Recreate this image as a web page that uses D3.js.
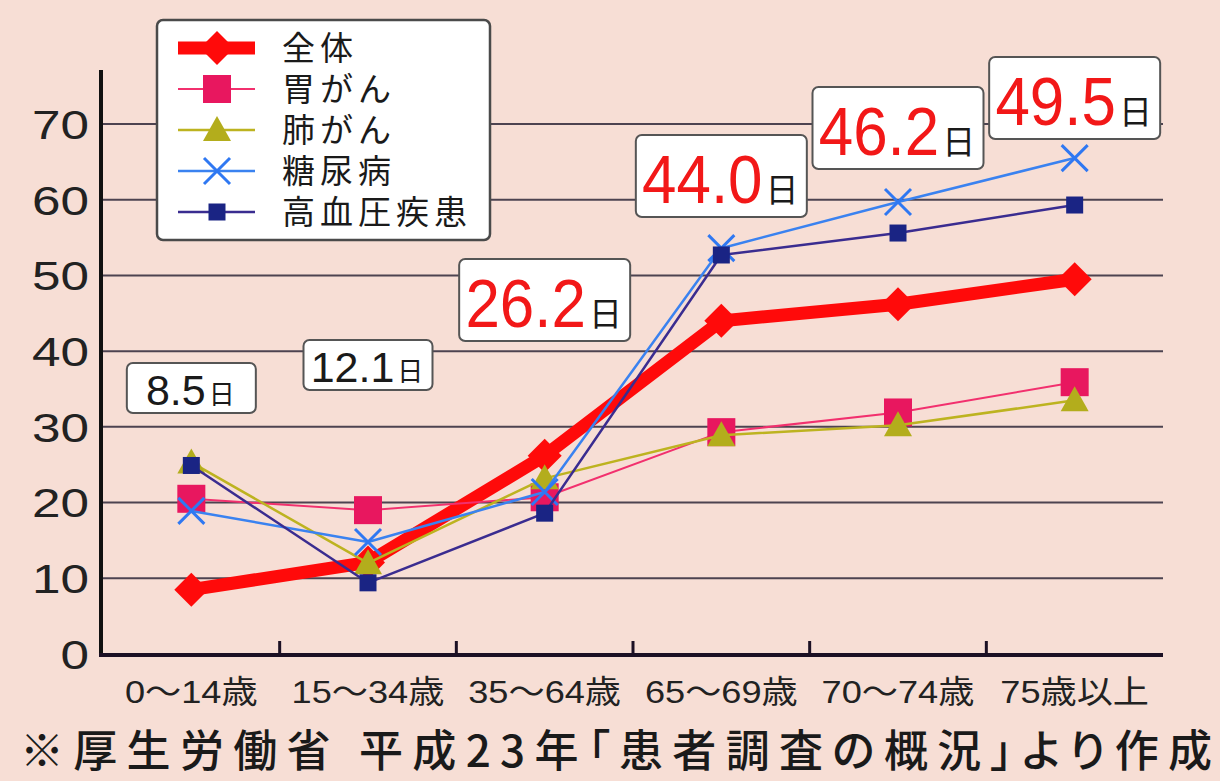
<!DOCTYPE html>
<html>
<head>
<meta charset="utf-8">
<script src="https://d3js.org/d3.v7.min.js"></script>
<style>
 body{margin:0;background:#f7ded5;}
 svg{display:block;font-family:"Liberation Sans","Noto Sans CJK JP",sans-serif;}
 .note{font-feature-settings:"palt";}
</style>
</head>
<body>
<script>
// data (days in hospital by age group)
const categories = ["0～14歳", "15～34歳", "35～64歳", "65～69歳", "70～74歳", "75歳以上"];
const overall = [8.5, 12.1, 26.2, 44.0, 46.2, 49.5];
const stomach = [20.5, 19.0, 20.7, 29.3, 31.9, 35.9];
const lung = [25.3, 12.0, 23.2, 28.9, 30.2, 33.5];
const diabetes = [18.9, 14.8, 21.4, 53.6, 59.7, 65.5];
const hypertension = [24.9, 9.4, 18.6, 52.7, 55.6, 59.3];
const seriesNames = ["全体", "胃がん", "肺がん", "糖尿病", "高血圧疾患"];
const yTicks = [0, 10, 20, 30, 40, 50, 60, 70];
const note = "※厚生労働省 平成23年「患者調査の概況」より作成";

// where the value boxes sit (top of box) for the overall series
const labelTop = [363, 340, 259, 135, 87, 57];

const w = 1220, h = 781;
const svg = d3.select("body").append("svg").attr("width", w).attr("height", h);
svg.append("rect").attr("width", w).attr("height", h).attr("fill", "#f7ded5");

const x = d3.scaleBand().domain(categories).range([103, 1163]);
const cx = c => x(c) + x.bandwidth() / 2;
const y = d3.scaleLinear().domain([0, 70]).range([654, 124]);

// gridlines
svg.append("g").selectAll("line")
  .data(yTicks.filter(t => t > 0))
  .enter().append("line")
  .attr("x1", 103).attr("x2", 1163)
  .attr("y1", d => y(d)).attr("y2", d => y(d))
  .attr("stroke", "#4d4350").attr("stroke-width", 2);

// y axis labels
const yAxis = svg.append("g").attr("transform", "translate(89,0)")
  .call(d3.axisLeft(y).tickValues(yTicks).tickSize(0).tickPadding(0));
yAxis.select(".domain").remove();
yAxis.selectAll("text")
  .attr("font-size", 40).attr("fill", "#222")
  .attr("font-family", "Liberation Sans").attr("dy", "0.36em")
  .attr("textLength", d => String(d).length * 28.5)
  .attr("lengthAdjust", "spacingAndGlyphs");

// axes lines
svg.append("line").attr("x1", 101).attr("x2", 101).attr("y1", 70).attr("y2", 657)
  .attr("stroke", "#111").attr("stroke-width", 4);
svg.append("line").attr("x1", 99).attr("x2", 1163).attr("y1", 655).attr("y2", 655)
  .attr("stroke", "#1c1024").attr("stroke-width", 4);
svg.append("g").selectAll("line")
  .data(categories.slice(1))
  .enter().append("line")
  .attr("x1", d => x(d)).attr("x2", d => x(d))
  .attr("y1", 655).attr("y2", 641)
  .attr("stroke", "#1c1024").attr("stroke-width", 3);

// x labels, stretched a little like the original print
svg.append("g").selectAll("text")
  .data(categories)
  .enter().append("text")
  .attr("x", d => cx(d)).attr("y", 703)
  .attr("text-anchor", "middle")
  .attr("font-size", 32).attr("fill", "#222")
  .text(d => d)
  .each(function () {
    const len = this.getComputedTextLength();
    d3.select(this).attr("textLength", len * 1.13).attr("lengthAdjust", "spacingAndGlyphs");
  });

// markers
function marker(g, type, color, px, py) {
  if (type === "diamond") {
    const r = 17;
    g.append("path").attr("d", `M${px},${py - r}L${px + r},${py}L${px},${py + r}L${px - r},${py}Z`).attr("fill", color);
  } else if (type === "square") {
    g.append("rect").attr("x", px - 14).attr("y", py - 14).attr("width", 28).attr("height", 28).attr("fill", color);
  } else if (type === "small") {
    g.append("rect").attr("x", px - 8.5).attr("y", py - 8.5).attr("width", 17).attr("height", 17).attr("fill", color);
  } else if (type === "triangle") {
    g.append("path").attr("d", `M${px},${py - 14}L${px + 14},${py + 11}L${px - 14},${py + 11}Z`).attr("fill", color);
  } else if (type === "x") {
    const r = 13;
    g.append("path").attr("d", `M${px - r},${py - r}L${px + r},${py + r}M${px - r},${py + r}L${px + r},${py - r}`)
      .attr("stroke", color).attr("stroke-width", 3).attr("fill", "none");
  }
}

const series = [
  {name: seriesNames[0], values: overall, line: "#ff0a0a", color: "#ff0a0a", width: 13, type: "diamond"},
  {name: seriesNames[1], values: stomach, line: "#f2306e", color: "#e8175f", width: 2, type: "square"},
  {name: seriesNames[2], values: lung, line: "#bdb320", color: "#b3ad1c", width: 2.5, type: "triangle"},
  {name: seriesNames[3], values: diabetes, line: "#3a82f0", color: "#2f78f2", width: 2.5, type: "x"},
  {name: seriesNames[4], values: hypertension, line: "#3a2c90", color: "#1a2484", width: 2.5, type: "small"}
];

const line = d3.line().x((d, i) => cx(categories[i])).y(d => y(d));

series.forEach(s => {
  const g = svg.append("g");
  g.append("path").datum(s.values).attr("d", line)
    .attr("fill", "none").attr("stroke", s.line).attr("stroke-width", s.width)
    .attr("stroke-linejoin", "round");
  s.values.forEach((v, i) => marker(g, s.type, s.color, cx(categories[i]), y(v)));
});

// value boxes for overall
overall.forEach((v, i) => {
  const big = i >= 2;
  const bw = big ? 171 : 129, bh = big ? 82 : 50;
  const mid = cx(categories[i]);
  const left = mid - bw / 2, top = labelTop[i];
  const squeeze = big ? 0.91 : 1;
  const g = svg.append("g");
  g.append("rect").attr("x", left).attr("y", top).attr("width", bw).attr("height", bh)
    .attr("rx", 6).attr("fill", "#fff").attr("stroke", "#555").attr("stroke-width", 2);
  const num = g.append("text").attr("x", 0).attr("y", 0)
    .attr("font-size", big ? 68 : 43).attr("fill", big ? "#f21818" : "#1a1a1a")
    .text(v.toFixed(1));
  const numW = num.node().getComputedTextLength() * squeeze;
  const day = g.append("text").attr("y", top + (big ? 67 : 41))
    .attr("font-size", big ? 33 : 26).attr("fill", "#1a1a1a")
    .attr("font-family", "Noto Sans CJK JP")
    .text("日");
  const dayW = day.node().getComputedTextLength();
  const gap = 3;
  const start = mid - (numW + gap + dayW) / 2 - 1;
  num.attr("transform", `translate(${start},${top + (big ? 68 : 42)}) scale(${squeeze},1)`);
  day.attr("x", start + numW + gap);
});

// legend
const lg = svg.append("g");
lg.append("rect").attr("x", 157).attr("y", 20).attr("width", 333).attr("height", 220)
  .attr("rx", 6).attr("fill", "#fff").attr("stroke", "#4a4a4a").attr("stroke-width", 2.5);
series.forEach((s, i) => {
  const ry = 48 + i * 41;
  lg.append("line").attr("x1", 178).attr("x2", 255).attr("y1", ry).attr("y2", ry)
    .attr("stroke", s.line).attr("stroke-width", s.width);
  marker(lg, s.type, s.color, 217, ry);
  lg.append("text").attr("x", 282).attr("y", ry + 12)
    .attr("font-size", 33).attr("letter-spacing", 5).attr("fill", "#1a1a1a")
    .attr("font-family", "Noto Sans CJK JP")
    .text(s.name);
});

// source note
svg.append("text").attr("class", "note").attr("x", 20).attr("y", 767)
  .attr("font-size", 44).attr("fill", "#1a1a1a").attr("font-weight", 500)
  .attr("font-family", "Noto Sans CJK JP")
  .attr("textLength", 1192).attr("lengthAdjust", "spacing")
  .text(note);
</script>
</body>
</html>
